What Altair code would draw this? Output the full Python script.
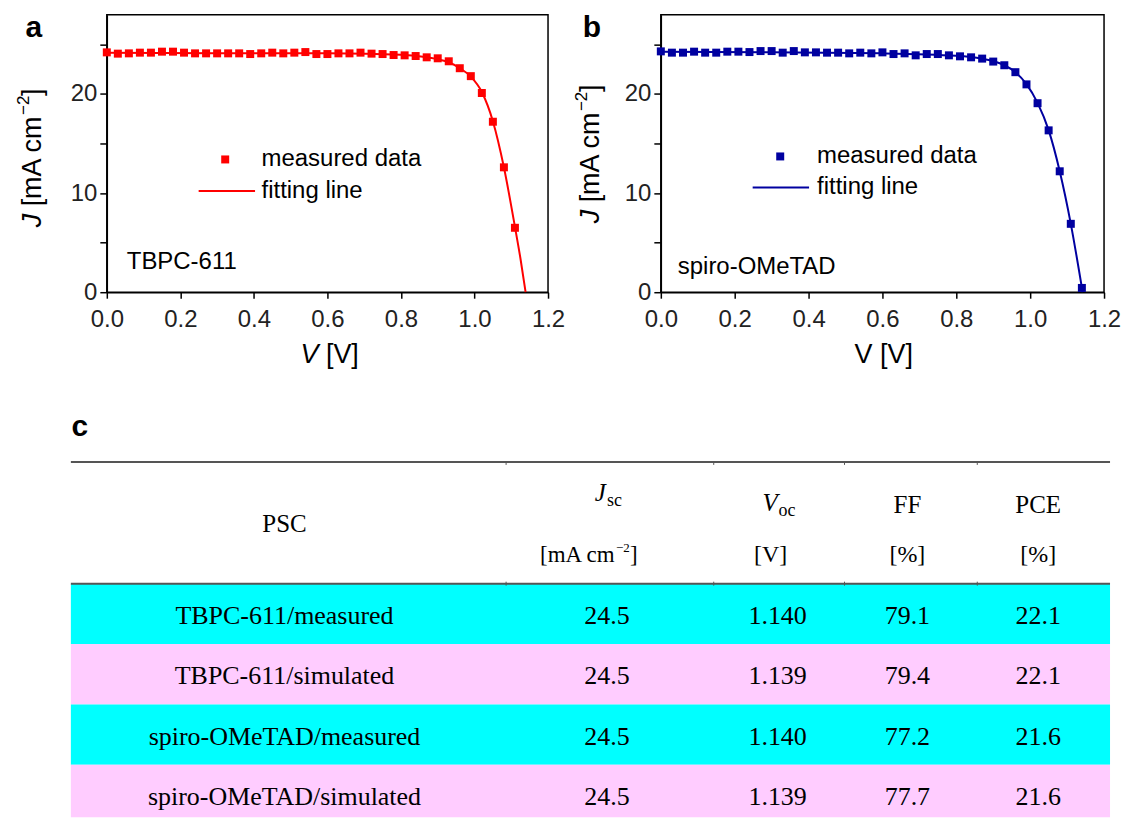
import altair as alt
import pandas as pd

SANS = "Liberation Sans"
SERIF = "Liberation Serif"

# ---------------- data: panel a (TBPC-611) ----------------
V_a = [0.00, 0.03, 0.06, 0.09, 0.12, 0.15, 0.18, 0.21, 0.24, 0.27, 0.30, 0.33, 0.36,
       0.39, 0.42, 0.45, 0.48, 0.51, 0.54, 0.57, 0.60, 0.63, 0.66, 0.69, 0.72, 0.75,
       0.78, 0.81, 0.84, 0.87, 0.90, 0.93, 0.96, 0.99, 1.02, 1.05, 1.08, 1.11]
J_a = [24.20, 24.07, 24.10, 24.17, 24.17, 24.27, 24.27, 24.17, 24.10, 24.10, 24.10, 24.10,
       24.10, 24.03, 24.10, 24.17, 24.10, 24.17, 24.23, 24.03, 24.03, 24.10, 24.10, 24.17,
       24.07, 24.03, 23.93, 23.90, 23.83, 23.70, 23.60, 23.30, 22.60, 21.80, 20.10, 17.20,
       12.60, 6.50]
Vfit_a = [0.00, 0.30, 0.60, 0.80, 0.86, 0.90, 0.93, 0.96, 0.99, 1.02, 1.05, 1.08, 1.11, 1.125, 1.139]
Jfit_a = [24.15, 24.12, 24.10, 23.95, 23.75, 23.50, 23.20, 22.60, 21.75, 20.20, 17.25, 12.60, 6.60, 3.40, 0.00]

# ---------------- data: panel b (spiro-OMeTAD) ----------------
V_b = [0.00, 0.03, 0.06, 0.09, 0.12, 0.15, 0.18, 0.21, 0.24, 0.27, 0.30, 0.33, 0.36,
       0.39, 0.42, 0.45, 0.48, 0.51, 0.54, 0.57, 0.60, 0.63, 0.66, 0.69, 0.72, 0.75,
       0.78, 0.81, 0.84, 0.87, 0.90, 0.93, 0.96, 0.99, 1.02, 1.05, 1.08, 1.11, 1.14]
J_b = [24.30, 24.17, 24.17, 24.27, 24.17, 24.17, 24.27, 24.27, 24.23, 24.33, 24.33, 24.17,
       24.33, 24.20, 24.20, 24.17, 24.17, 24.10, 24.17, 24.10, 24.20, 24.03, 24.10, 23.90,
       24.03, 24.03, 23.90, 23.80, 23.70, 23.57, 23.27, 22.90, 22.20, 20.97, 19.07, 16.33,
       12.20, 6.90, 0.43]
Vfit_b = [0.00, 0.30, 0.60, 0.80, 0.87, 0.90, 0.93, 0.96, 0.99, 1.02, 1.05, 1.08, 1.11, 1.142]
Jfit_b = [24.25, 24.20, 24.10, 23.85, 23.55, 23.30, 22.90, 22.20, 21.00, 19.10, 16.35, 12.20, 6.90, 0.00]

x_ticks = [0.0, 0.1, 0.2, 0.3, 0.4, 0.5, 0.6, 0.7, 0.8, 0.9, 1.0, 1.1, 1.2]
y_ticks = [0, 5, 10, 15, 20, 25]
legend_labels = ["measured data", "fitting line"]

# ---------------- data: table c ----------------
psc = ["TBPC-611/measured", "TBPC-611/simulated", "spiro-OMeTAD/measured", "spiro-OMeTAD/simulated"]
jsc = ["24.5", "24.5", "24.5", "24.5"]
voc = ["1.140", "1.139", "1.140", "1.139"]
ff = ["79.1", "79.4", "77.2", "77.7"]
pce = ["22.1", "22.1", "21.6", "21.6"]
row_fill = ["#00FFFF", "#FFCCFF", "#00FFFF", "#FFCCFF"]


def note(text, x, y, size=24, font=SANS, style="normal", weight="normal",
         angle=0, align="left", baseline="middle", color="black"):
    return alt.Chart(pd.DataFrame({"t": [text]})).mark_text(
        font=font, fontSize=size, fontStyle=style, fontWeight=weight,
        angle=angle, align=align, baseline=baseline, color=color
    ).encode(text="t:N", x=alt.value(x), y=alt.value(y))


def y_title(xc, y0):
    return [
        note("J", xc, y0, size=27, style="italic", angle=270),
        note("[mA cm", xc, y0 - 21, size=27, angle=270),
        note("\u22122", xc - 9, y0 - 112.5, size=17, angle=270),
        note("]", xc, y0 - 131.5, size=27, angle=270),
    ]


def panel(V, J, Vf, Jf, color, letter, sample, italic_v, W, leg):
    xs = alt.Scale(domain=[0, 1.2], nice=False, zero=False)
    ys = alt.Scale(domain=[0, 28], nice=False)
    xaxis = alt.Axis(values=x_ticks, title=None, tickSize=6, labelPadding=9,
                     labelExpr="round(datum.value*10) % 2 == 0 ? format(datum.value, '.1f') : ''")
    yaxis = alt.Axis(values=y_ticks, title=None, tickSize=7, labelPadding=3,
                     labelExpr="datum.value % 10 == 0 ? format(datum.value, 'd') : ''")
    fit = alt.Chart(pd.DataFrame({"V": Vf, "J": Jf})).mark_line(
        color=color, strokeWidth=2, interpolate="monotone"
    ).encode(x=alt.X("V:Q", scale=xs, axis=xaxis), y=alt.Y("J:Q", scale=ys, axis=yaxis))
    pts = alt.Chart(pd.DataFrame({"V": V, "J": J})).mark_square(
        size=64, color=color, opacity=1
    ).encode(x="V:Q", y="J:Q")
    sq_x, sq_y, tx, l_x1, l_x2, l_y = leg
    leg_sq = alt.Chart(pd.DataFrame({"k": [legend_labels[0]]})).mark_square(
        size=64, color=color, opacity=1).encode(x=alt.value(sq_x), y=alt.value(sq_y))
    leg_ln = alt.Chart(pd.DataFrame({"k": [legend_labels[1]]})).mark_rule(
        color=color, strokeWidth=2).encode(x=alt.value(l_x1), x2=alt.value(l_x2), y=alt.value(l_y))
    layers = [fit, pts, leg_sq, leg_ln,
              note(legend_labels[0], tx, sq_y, size=24),
              note(legend_labels[1], tx, l_y, size=24),
              note(sample[0], sample[1], sample[2], size=24),
              note(letter[0], letter[1], 22, size=30, weight="bold", align="center",
                   baseline="alphabetic")]
    layers += y_title(letter[2], letter[3])
    if italic_v:
        layers += [note("V", 194, 341, size=27, style="italic"),
                   note("[V]", 219.5, 341, size=27)]
    else:
        layers += [note("V [V]", 194, 341, size=27)]
    return alt.layer(*layers).properties(
        width=W, height=278,
        view=alt.ViewBackground(stroke="black", strokeWidth=1.5))


panel_a = panel(V_a, J_a, Vfit_a, Jfit_a, "#FF0000", ("a", -73, -74, 213),
                ("TBPC-611", 20, 248), True, 442,
                (118.6, 145, 155, 92, 148.5, 176.5))
panel_b = panel(V_b, J_b, Vfit_b, Jfit_b, "#0000A0", ("b", -69, -70, 209),
                ("spiro-OMeTAD", 17, 253), False, 444,
                (119.6, 142, 156.5, 92, 148.5, 173))

# ---------------- table layout (canvas pixel constants) ----------------
PLOT_TOP = 14
ORIGIN_X, TOP, HEAD_BOTTOM, BOTTOM = 106, 462, 584, 818
T_LEFT, T_RIGHT, ROW_H = 70, 1111, 60.5
col_centers = [284, 607, 778, 908, 1039]
col_marks = [506, 714, 845, 978]

txs = alt.Scale(domain=[ORIGIN_X, T_RIGHT], nice=False, zero=False)
tys = alt.Scale(domain=[BOTTOM, TOP], nice=False, zero=False)

rows = []
cells = []
for i in range(len(psc)):
    y0 = HEAD_BOTTOM + i * ROW_H
    y1 = min(y0 + ROW_H, BOTTOM)
    rows.append({"x0": T_LEFT, "x1": T_RIGHT, "y0": y0, "y1": y1, "fill": row_fill[i]})
    for c, val in enumerate([psc[i], jsc[i], voc[i], ff[i], pce[i]]):
        cells.append({"x": col_centers[c], "y": y0 + ROW_H / 2 + 2, "t": val})
rows_df = pd.DataFrame(rows)
cells_df = pd.DataFrame(cells)

rects = alt.Chart(rows_df).mark_rect().encode(
    x=alt.X("x0:Q", scale=txs, axis=None), x2="x1:Q",
    y=alt.Y("y0:Q", scale=tys, axis=None), y2="y1:Q",
    color=alt.Color("fill:N", scale=None))

rules_df = pd.DataFrame({"x0": [T_LEFT, T_LEFT], "x1": [T_RIGHT, T_RIGHT], "y": [TOP, HEAD_BOTTOM]})
rules = alt.Chart(rules_df).mark_rule(color="#555555", strokeWidth=2).encode(
    x=alt.X("x0:Q", scale=txs, axis=None), x2="x1:Q", y=alt.Y("y:Q", scale=tys, axis=None))

marks_rows = []
for xm in col_marks:
    marks_rows.append({"x": xm, "y0": TOP, "y1": TOP + 3})
    marks_rows.append({"x": xm, "y0": HEAD_BOTTOM - 2, "y1": HEAD_BOTTOM + 2})
ticks = alt.Chart(pd.DataFrame(marks_rows)).mark_rule(color="#555555", strokeWidth=1).encode(
    x=alt.X("x:Q", scale=txs, axis=None), y=alt.Y("y0:Q", scale=tys, axis=None), y2="y1:Q")

body = alt.Chart(cells_df).mark_text(font=SERIF, fontSize=26, color="black",
                                     align="center", baseline="middle").encode(
    x=alt.X("x:Q", scale=txs, axis=None), y=alt.Y("y:Q", scale=tys, axis=None), text="t:N")


def tnote(text, x, y, size=25, style="normal", weight="normal", align="center",
          baseline="middle", font=SERIF):
    return alt.Chart(pd.DataFrame({"t": [text], "x": [x], "y": [y]})).mark_text(
        font=font, fontSize=size, fontStyle=style, fontWeight=weight,
        align=align, baseline=baseline, color="black"
    ).encode(x=alt.X("x:Q", scale=txs, axis=None), y=alt.Y("y:Q", scale=tys, axis=None),
             text="t:N")


header = [
    tnote("c", 79, 436, size=30, weight="bold", baseline="alphabetic", font=SANS),
    tnote("PSC", col_centers[0], 524),
    tnote("J", 606, 493, style="italic", align="right"),
    tnote("sc", 607, 501, size=18, align="left"),
    tnote("V", 778, 503, style="italic", align="right"),
    tnote("oc", 779, 511, size=18, align="left"),
    tnote("FF", col_centers[3], 505),
    tnote("PCE", col_centers[4], 505),
    tnote("[mA cm", 540, 555, size=23, align="left"),
    tnote("\u22122", 616, 548, size=13, align="left"),
    tnote("]", 630, 555, size=23, align="left"),
    tnote("[V]", 771, 555, size=24),
    tnote("[%]", col_centers[3], 555, size=24),
    tnote("[%]", col_centers[4], 555, size=24),
]

table = alt.layer(rects, rules, ticks, body, *header).properties(
    width=T_RIGHT - ORIGIN_X, height=BOTTOM - TOP)

top = alt.hconcat(panel_a, panel_b, spacing=113, bounds="flush")
# the flush-bounded row contributes no height, so the gap is measured from the plot top
chart = alt.vconcat(top, table, spacing=TOP - PLOT_TOP, bounds="flush").properties(
    padding={"left": 14, "top": 11, "right": 5, "bottom": 0}
).configure_view(stroke=None).configure_axis(
    labelFont=SANS, labelFontSize=24, labelColor="#222222",
    domainColor="black", domainWidth=1.5, tickColor="black", tickWidth=1.5,
    grid=False, labelFlush=False, labelOverlap=False, labelBound=False
)

chart.save("out.html", embed_options={"renderer": "svg", "actions": False})
